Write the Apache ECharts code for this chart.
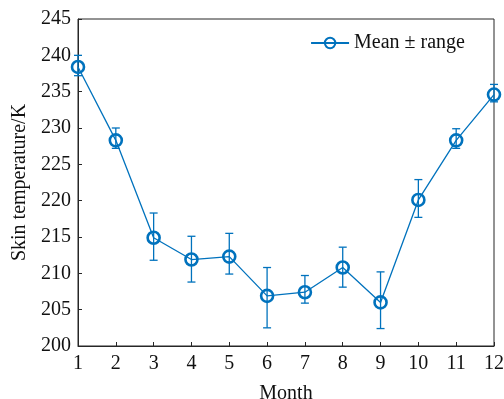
<!DOCTYPE html>
<html>
<head>
<meta charset="utf-8">
<script src="https://cdn.jsdelivr.net/npm/echarts@6/dist/echarts.min.js"></script>
<style>
  html, body { margin: 0; padding: 0; background: #fff; }
  #chart { width: 504px; height: 399px; }
</style>
</head>
<body>
<div id="chart"></div>
<script>
// Monthly skin temperature (K): mean with min/max range
const months = [1, 2, 3, 4, 5, 6, 7, 8, 9, 10, 11, 12];
const meanTemp = [238.4, 228.3, 214.9, 211.9, 212.3, 206.9, 207.4, 210.8, 206.0, 220.1, 228.3, 234.6];
const upperTemp = [240.0, 230.0, 218.3, 215.1, 215.5, 210.8, 209.7, 213.6, 210.2, 222.9, 229.9, 236.0];
const lowerTemp = [237.2, 227.2, 211.8, 208.8, 209.9, 202.5, 205.9, 208.1, 202.4, 217.7, 227.2, 233.6];

const BLUE = '#0072BD';
const AXIS = '#262626';
const FONT = '"Liberation Serif", "Times New Roman", serif';

const chart = echarts.init(document.getElementById('chart'), null, { renderer: 'canvas' });

const meanData = months.map((m, i) => [m, meanTemp[i]]);
const rangeData = months.map((m, i) => [m, lowerTemp[i], upperTemp[i]]);

chart.setOption({
  animation: false,
  backgroundColor: '#fff',
  textStyle: { fontFamily: FONT },
  grid: {
    left: 78, right: 10, top: 19, bottom: 53,
    outerBoundsMode: 'none',
    containLabel: false,
    show: true, borderColor: AXIS, borderWidth: 1, backgroundColor: 'transparent'
  },
  legend: {
    right: 34, top: 28,
    itemWidth: 38, itemHeight: 13, itemGap: 8,
    textStyle: { fontFamily: FONT, fontSize: 20, color: '#111' },
    data: ['Mean ± range']
  },
  xAxis: {
    type: 'value', min: 1, max: 12, interval: 1,
    name: 'Month', nameLocation: 'middle', nameGap: 38,
    nameTextStyle: { fontFamily: FONT, fontSize: 20, color: '#111' },
    axisLine: { show: true, lineStyle: { color: AXIS, width: 1 } },
    axisTick: { show: true, inside: true, length: 4, lineStyle: { color: AXIS } },
    axisLabel: { fontFamily: FONT, fontSize: 20, color: '#111', margin: 8 },
    splitLine: { show: false }
  },
  yAxis: {
    type: 'value', min: 200, max: 245, interval: 5,
    name: 'Skin temperature/K', nameLocation: 'middle', nameGap: 47,
    nameTextStyle: { fontFamily: FONT, fontSize: 20, color: '#111' },
    axisLine: { show: true, lineStyle: { color: AXIS, width: 1 } },
    axisTick: { show: true, inside: true, length: 4, lineStyle: { color: AXIS } },
    axisLabel: { fontFamily: FONT, fontSize: 20, color: '#111', margin: 7 },
    splitLine: { show: false }
  },
  series: [
    {
      type: 'line',
      name: 'Mean ± range',
      data: meanData,
      z: 4,
      symbol: 'circle',
      symbolSize: 12,
      lineStyle: { color: BLUE, width: 1.3 },
      // hollow ring: the line and the range bar stay visible through it
      itemStyle: { color: 'rgba(255,255,255,0)', borderColor: BLUE, borderWidth: 2.6 },
      clip: false
    },
    {
      // vertical range bars with caps
      type: 'custom',
      name: 'Mean ± range',
      data: rangeData,
      z: 3,
      renderItem: function (params, api) {
        const x = api.value(0);
        const lo = api.coord([x, api.value(1)]);
        const hi = api.coord([x, api.value(2)]);
        const cap = 4;
        const style = { stroke: BLUE, lineWidth: 1.3, fill: null };
        return {
          type: 'group',
          children: [
            { type: 'line', shape: { x1: lo[0], y1: lo[1], x2: hi[0], y2: hi[1] }, style: style },
            { type: 'line', shape: { x1: lo[0] - cap, y1: lo[1], x2: lo[0] + cap, y2: lo[1] }, style: style },
            { type: 'line', shape: { x1: hi[0] - cap, y1: hi[1], x2: hi[0] + cap, y2: hi[1] }, style: style }
          ]
        };
      },
      encode: { x: 0, y: [1, 2] },
      itemStyle: { color: BLUE }
    }
  ]
});
</script>
</body>
</html>
